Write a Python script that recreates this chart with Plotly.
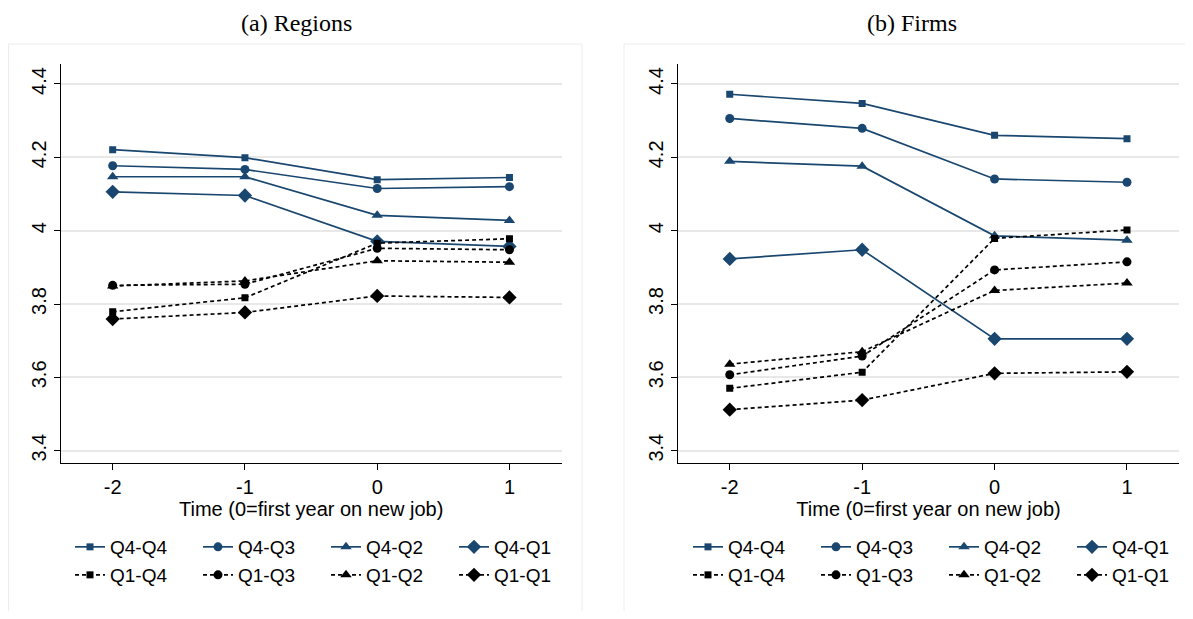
import plotly.graph_objects as go

time = [-2, -1, 0, 1]
series_names = ["Q4-Q4", "Q4-Q3", "Q4-Q2", "Q4-Q1", "Q1-Q4", "Q1-Q3", "Q1-Q2", "Q1-Q1"]

# (a) Regions
reg_q4q4 = [4.221, 4.199, 4.139, 4.145]
reg_q4q3 = [4.177, 4.167, 4.115, 4.120]
reg_q4q2 = [4.147, 4.147, 4.042, 4.028]
reg_q4q1 = [4.106, 4.096, 3.971, 3.957]
reg_q1q4 = [3.779, 3.817, 3.966, 3.978]
reg_q1q3 = [3.851, 3.854, 3.952, 3.948]
reg_q1q2 = [3.849, 3.863, 3.918, 3.914]
reg_q1q1 = [3.759, 3.777, 3.822, 3.818]

# (b) Firms
firm_q4q4 = [4.372, 4.347, 4.260, 4.251]
firm_q4q3 = [4.306, 4.279, 4.141, 4.132]
firm_q4q2 = [4.189, 4.176, 3.986, 3.974]
firm_q4q1 = [3.923, 3.948, 3.705, 3.705]
firm_q1q4 = [3.570, 3.614, 3.979, 4.002]
firm_q1q3 = [3.607, 3.658, 3.893, 3.915]
firm_q1q2 = [3.636, 3.670, 3.837, 3.857]
firm_q1q1 = [3.512, 3.538, 3.611, 3.615]

y_ticks = [3.4, 3.6, 3.8, 4.0, 4.2, 4.4]
y_tick_labels = ["3.4", "3.6", "3.8", "4", "4.2", "4.4"]
x_ticks = [-2, -1, 0, 1]
x_tick_labels = ["-2", "-1", "0", "1"]
panel_titles = ["(a) Regions", "(b) Firms"]
x_title = "Time (0=first year on new job)"

# page body has an 8px default margin; size the figure to fit the 1193x619 window
OFF = 8
W, H = 1193 - 2 * OFF, 619 - 2 * OFF

def px(x):
    return (x - OFF) / W

def py(y):
    return 1 - (y - OFF) / H

NAVY = "#1a476f"
BLACK = "#000000"
symbols = ["square", "circle", "triangle-up", "diamond"]
sizes = [7, 9, 10, 11]

regions = [reg_q4q4, reg_q4q3, reg_q4q2, reg_q4q1, reg_q1q4, reg_q1q3, reg_q1q2, reg_q1q1]
firms = [firm_q4q4, firm_q4q3, firm_q4q2, firm_q4q1, firm_q1q4, firm_q1q3, firm_q1q2, firm_q1q1]

fig = go.Figure()

def add_panel(data, xa, ya, leg_top, leg_bot):
    for i, (name, vals) in enumerate(zip(series_names, data)):
        top = i < 4
        last = (i % 4) == 3
        fig.add_trace(go.Scatter(
            x=time, y=vals, name=name, mode="lines+markers",
            xaxis=xa, yaxis=ya,
            legend=leg_top if top else leg_bot,
            legendwidth=55 if last else 83,
            line=dict(color=NAVY if top else BLACK, width=1.7,
                      dash="solid" if top else "4px,3px"),
            marker=dict(symbol=symbols[i % 4], size=sizes[i % 4],
                        color=NAVY if top else BLACK, line=dict(width=0)),
            showlegend=True,
        ))

add_panel(regions, "x", "y", "legend", "legend2")
add_panel(firms, "x2", "y2", "legend3", "legend4")

SANS = "Liberation Sans, Arial, sans-serif"
axis_font = dict(family=SANS, size=20, color="#000")

def xaxis(domain, anchor):
    return dict(domain=domain, anchor=anchor, range=[-2.393, 1.395],
                tickvals=x_ticks, ticktext=x_tick_labels, ticks="outside", ticklen=6,
                tickcolor="#000", showline=True, linecolor="#000", linewidth=1.3,
                showgrid=False, zeroline=False, tickfont=axis_font, automargin=False,
                title=dict(text=x_title, font=dict(family=SANS, size=20, color="#000"), standoff=2))

def yaxis(anchor):
    return dict(domain=[py(463), py(64.3)], anchor=anchor, range=[3.3665, 4.4537],
                tickvals=y_ticks, ticktext=y_tick_labels, ticks="outside", ticklen=6,
                tickcolor="#000", tickangle=-90, showline=True, linecolor="#000",
                linewidth=1.3, showgrid=True, gridcolor="#e8e8e8", gridwidth=1.5,
                zeroline=False, tickfont=axis_font, automargin=False)

fig.update_layout(
    width=W, height=H,
    margin=dict(l=0, r=0, t=0, b=0, autoexpand=False),
    paper_bgcolor="white", plot_bgcolor="white",
    xaxis=xaxis([px(60.7), px(561.7)], "y"),
    yaxis=yaxis("x"),
    xaxis2=xaxis([px(677.7), px(1179.3)], "y2"),
    yaxis2=yaxis("x2"),
)

leg_font = dict(family=SANS, size=19, color="#000")

def legend(xpx, ypx):
    return dict(x=px(xpx), y=py(ypx), xanchor="left", yanchor="middle",
                orientation="h", entrywidthmode="pixels",
                bgcolor="rgba(0,0,0,0)", font=leg_font, itemwidth=30,
                traceorder="normal")

fig.update_layout(
    legend=legend(70, 547),
    legend2=legend(70, 575),
    legend3=legend(688, 547),
    legend4=legend(688, 575),
)

for txt, cx in zip(panel_titles, [296, 912]):
    fig.add_annotation(text=txt, x=px(cx), y=1.0, xref="paper", yref="paper",
                       showarrow=False, xanchor="center", yanchor="top",
                       font=dict(family="Liberation Serif, DejaVu Serif, serif", size=24, color="#000"))

for x0, x1 in [(8.5, 582), (624, 1199)]:
    fig.add_shape(type="rect", xref="paper", yref="paper",
                  x0=px(x0), x1=px(x1), y0=-0.05, y1=py(44),
                  line=dict(color="#ececec", width=1), fillcolor="rgba(0,0,0,0)", layer="below")

fig.write_html("out.html")
